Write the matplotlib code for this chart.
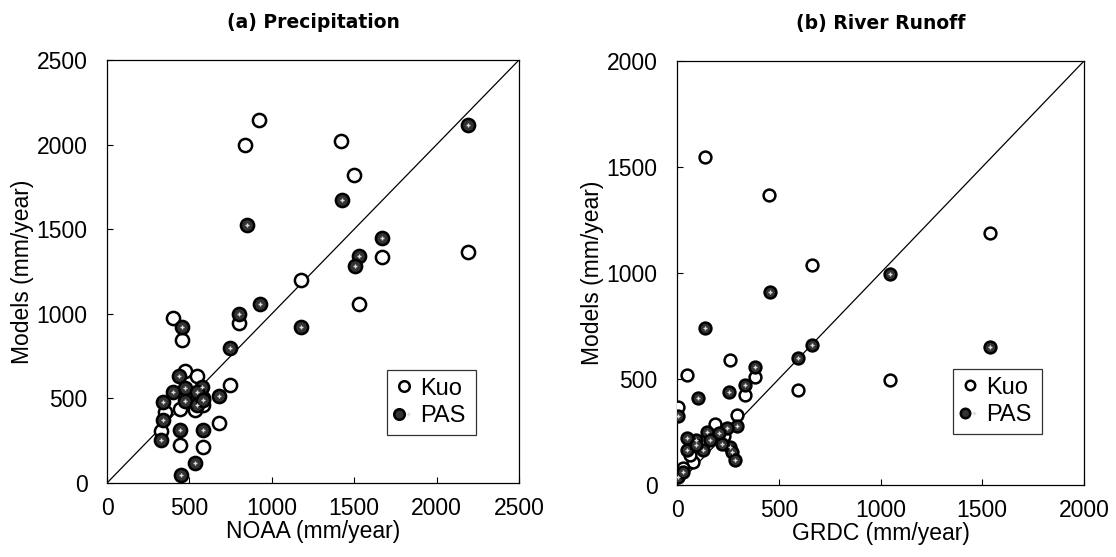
import matplotlib
matplotlib.use("Agg")
import matplotlib.pyplot as plt
from matplotlib.legend_handler import HandlerTuple
from matplotlib.lines import Line2D

# (a) Precipitation: NOAA (x) vs Models (y)
prec_kuo_x = [920, 840, 1420, 1500, 1670, 2190, 1175, 1530, 400, 800, 455, 475, 545, 745,
              585, 495, 585, 535, 440, 350, 330, 680, 445, 585]
prec_kuo_y = [2145, 1995, 2020, 1820, 1335, 1365, 1200, 1060, 975, 945, 845, 660, 635, 580,
              500, 490, 460, 430, 440, 420, 305, 355, 225, 215]
prec_pas_x = [2190, 1425, 850, 1670, 1530, 1505, 930, 1180, 455, 800, 745, 435, 575, 475,
              400, 680, 545, 475, 545, 585, 340, 340, 330, 445, 585, 535, 450]
prec_pas_y = [2115, 1675, 1525, 1450, 1340, 1280, 1055, 920, 920, 1000, 800, 635, 570, 560,
              540, 515, 540, 485, 460, 490, 480, 375, 255, 315, 315, 120, 45]

# (b) River Runoff: GRDC (x) vs Models (y)
run_kuo_x = [140, 450, 665, 1540, 1045, 595, 385, 260, 335, 50, 5, 295, 185, 80, 30, 65, 230]
run_kuo_y = [1545, 1370, 1040, 1190, 495, 450, 510, 590, 425, 520, 370, 330, 290, 110, 80, 140, 230]
run_pas_x = [140, 455, 1045, 665, 1540, 595, 385, 335, 255, 105, 5, 295, 245, 205, 145, 160,
             95, 50, 50, 130, 95, 260, 270, 285, 220, 5, 30]
run_pas_y = [740, 910, 995, 660, 650, 600, 555, 470, 440, 410, 325, 280, 270, 245, 250, 210,
             210, 220, 165, 165, 190, 180, 155, 120, 195, 40, 60]

panels = [
    dict(title="(a) Precipitation", xlabel="NOAA (mm/year)", lim=2500,
         ticks=[0, 500, 1000, 1500, 2000, 2500],
         kuo=(prec_kuo_x, prec_kuo_y), pas=(prec_pas_x, prec_pas_y),
         rect=[107/1116, 74/557, 412/1116, 423/557], ms=9.5,
         leg=(387/1116, 1 - 438/557, 89/1116, 71/557)),
    dict(title="(b) River Runoff", xlabel="GRDC (mm/year)", lim=2000,
         ticks=[0, 500, 1000, 1500, 2000],
         kuo=(run_kuo_x, run_kuo_y), pas=(run_pas_x, run_pas_y),
         rect=[677/1116, 72/557, 407/1116, 424/557], ms=8.5,
         leg=(953/1116, 1 - 434/557, 89/1116, 65/557)),
]

plt.rcParams['font.family'] = ['Liberation Sans', 'DejaVu Sans']
fig = plt.figure(figsize=(11.16, 5.57), dpi=100)

for p in panels:
    ax = fig.add_axes(p["rect"])
    lim = p["lim"]
    ax.plot([0, lim], [0, lim], color="black", lw=0.9, zorder=1)
    ms = p["ms"]
    ax.plot(p["kuo"][0], p["kuo"][1], ls="none", marker="o", ms=ms, mfc="white",
            mec="black", mew=1.8, zorder=3)
    ax.plot(p["pas"][0], p["pas"][1], ls="none", marker="o", ms=ms, mfc="#333333",
            mec="black", mew=1.8, zorder=4)
    ax.plot(p["pas"][0], p["pas"][1], ls="none", marker="+", ms=ms * 0.35, mec="#dddddd",
            mew=1.0, zorder=5)
    ax.set_xlim(0, lim)
    ax.set_ylim(0, lim)
    ax.set_xticks(p["ticks"])
    ax.set_yticks(p["ticks"])
    ax.tick_params(direction="in", length=4, width=0.8, labelsize=16.5, top=False, right=False)
    ax.tick_params(axis="x", pad=10)
    ax.tick_params(axis="y", pad=14)
    ax.set_xlabel(p["xlabel"], fontsize=16.5, labelpad=0)
    ax.set_ylabel("Models (mm/year)", fontsize=16.5, labelpad=2)
    ax.set_title(p["title"], fontsize=13.5, fontweight="bold", pad=23, family="DejaVu Sans")
    for s in ax.spines.values():
        s.set_linewidth(0.9)

    h_kuo = Line2D([], [], ls="none", marker="o", ms=ms * 0.8, mfc="white", mec="black", mew=1.8)
    h_pas = Line2D([], [], ls="none", marker="o", ms=ms * 0.8, mfc="#333333", mec="black", mew=1.8)
    h_pas2 = Line2D([], [], ls="none", marker="+", ms=ms * 0.3, mec="#dddddd", mew=1.0)
    leg = ax.legend([h_kuo, (h_pas, h_pas2)], ["Kuo", "PAS"],
                    handler_map={tuple: HandlerTuple(ndivide=None, pad=0)},
                    bbox_to_anchor=p["leg"], bbox_transform=fig.transFigure,
                    mode="expand", loc="center", fontsize=17, frameon=True, fancybox=False,
                    handlelength=0.8, handletextpad=0.3, borderpad=0.3, labelspacing=0.25,
                    borderaxespad=0)
    leg.get_frame().set_edgecolor("black")
    leg.get_frame().set_linewidth(0.9)

fig.savefig("out.png", dpi=100)
